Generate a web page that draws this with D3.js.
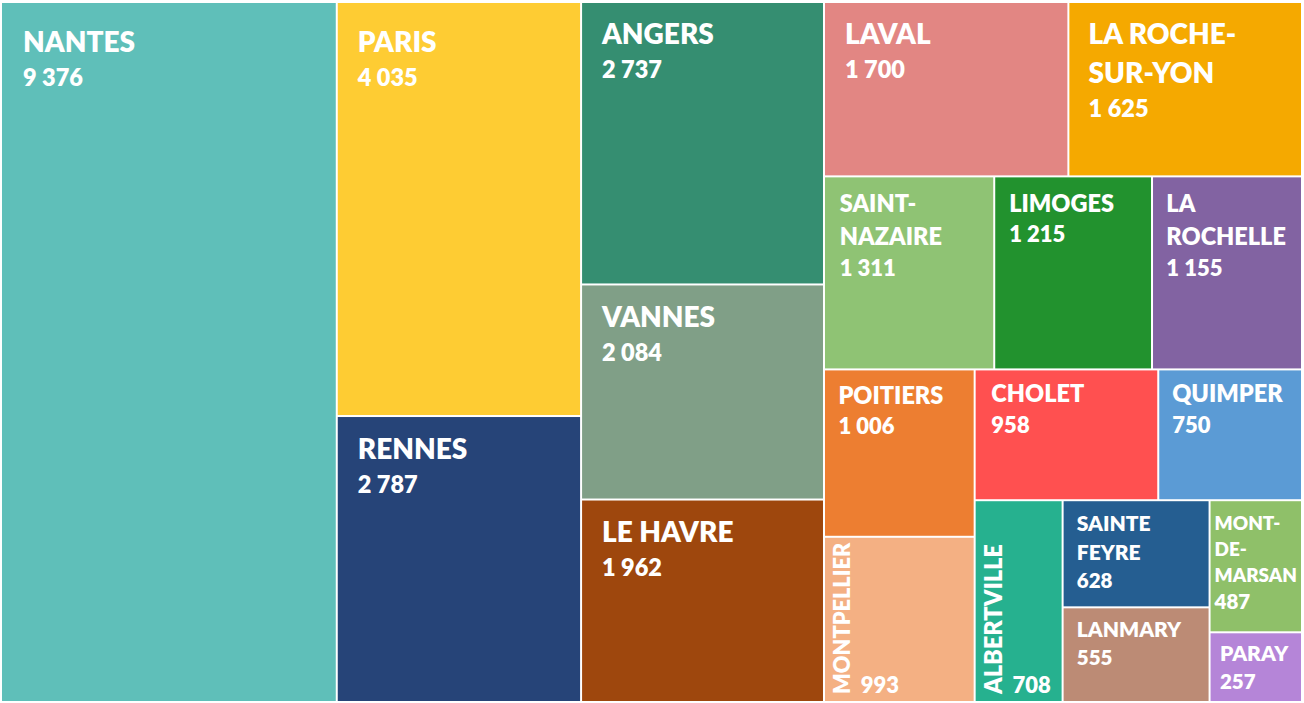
<!DOCTYPE html>
<html><head><meta charset="utf-8">
<script src="https://cdn.jsdelivr.net/npm/d3@7"></script>
<style>
body{margin:0;background:#fff;}
svg{display:block;}
text{font-family:Lato,'Open Sans',sans-serif;font-weight:800;fill:#fff;}
</style>
</head><body>
<svg id="chart" width="1304" height="703"></svg>
<script>
// ---- data ----
const cities = ["NANTES","PARIS","RENNES","ANGERS","VANNES","LE HAVRE","LAVAL","LA ROCHE-SUR-YON","SAINT-NAZAIRE","LIMOGES","LA ROCHELLE","POITIERS","MONTPELLIER","CHOLET","QUIMPER","ALBERTVILLE","SAINTE FEYRE","LANMARY","MONT-DE-MARSAN","PARAY"];
const counts = [9376,4035,2787,2737,2084,1962,1700,1625,1311,1215,1155,1006,993,958,750,708,628,555,487,257];
const colors = ["#5FBFB9","#FECC33","#264478","#358E71","#809F87","#9E470D","#E28683","#F5A900","#8FC374","#22922E","#8263A2","#ED7E31","#F4B083","#FF5050","#5B9BD5","#26B18F","#255E91","#BC8B75","#8FC069","#B585D8"];
// squarified rows as laid out by the spreadsheet (number of items per strip, strip direction)
const rowSizes = [1,2,3,2,3,2,2,1,2,2];
const rowDirs  = ["col","col","col","row","row","col","row","col","col","col"];

const W = 1304, H = 703;
const svg = d3.select("#chart");

function stripTile(parent, x0, y0, x1, y1) {
  const nodes = parent.children;
  let value = parent.value, i0 = 0;
  rowSizes.forEach((n, r) => {
    const kids = nodes.slice(i0, i0 + n);
    const row = {children: kids, value: d3.sum(kids, d => d.value)};
    if (rowDirs[r] === "row") {
      const ny = (r === rowSizes.length - 1) ? y1 : y0 + (y1 - y0) * row.value / value;
      d3.treemapDice(row, x0, y0, x1, ny); y0 = ny;
    } else {
      const nx = (r === rowSizes.length - 1) ? x1 : x0 + (x1 - x0) * row.value / value;
      d3.treemapSlice(row, x0, y0, nx, y1); x0 = nx;
    }
    value -= row.value; i0 += n;
  });
}

const data = {name: "root", children: cities.map((c, i) => ({name: c, value: counts[i], color: colors[i]}))};
const root = d3.hierarchy(data).sum(d => d.value || 0);
d3.treemap().tile(stripTile).size([W - 3, H - 3]).paddingInner(2).paddingOuter(1)(root);

const fmt = d3.formatLocale({decimal: ",", thousands: " ", grouping: [3], currency: ["", "€"]}).format(",d");

const g = svg.append("g").attr("transform", "translate(1,2)");
const leaves = root.leaves();

g.selectAll("rect").data(leaves).join("rect")
  .attr("x", d => d.x0).attr("y", d => d.y0)
  .attr("width", d => d.x1 - d.x0).attr("height", d => d.y1 - d.y0)
  .attr("fill", d => d.data.color);

const meas = svg.append("text").attr("x", -1000).attr("y", -1000);
function tw(str, size) { meas.attr("font-size", size).text(str); return meas.node().getComputedTextLength(); }

const CAP = 0.72;
function styleFor(area) {
  if (area > 36000) return {lf: 28, vf: 23.5, lh: 39, vh: 34};
  if (area > 16000) return {lf: 23.5, vf: 22, lh: 33.5, vh: 30.5};
  return {lf: 21, vf: 20.5, lh: 29, vh: 28};
}

leaves.forEach(d => {
  const w = d.x1 - d.x0, h = d.y1 - d.y0;
  const st = styleFor(w * h);
  const tokens = d.data.name.match(/[^\s-]+[-\s]?/g);
  const words = d.data.name.split(/(?<=[-\s])/).map(s => s.trim());
  let lf = st.lf;
  const maxWord = d3.max(words, s => tw(s, lf));
  let pad = Math.max(4, Math.min(21, 0.07 * w + 3));
  const cell = g.append("g");
  if (tokens.length === 1 && maxWord > 1.1 * (w - 8)) {
    // rotated label
    let f = lf;
    const len = tw(d.data.name, f);
    if (len > h - 12) f = f * (h - 12) / len;
    const cap = f * CAP;
    const bx = d.x0 + 9 + cap;
    cell.append("text").attr("font-size", f)
      .attr("transform", `translate(${bx},${d.y1 - 7}) rotate(-90)`)
      .text(d.data.name);
    cell.append("text").attr("font-size", st.vf)
      .attr("x", bx + 11).attr("y", d.y1 - 8)
      .text(fmt(d.data.value));
    return;
  }
  if (maxWord > w - 2 * pad) pad = Math.max(4, (w - maxWord) / 2);
  if (maxWord > w - 2 * pad) lf = lf * (w - 2 * pad) / maxWord;
  const avail = w - 2 * pad - 10;
  const lines = [];
  let line = "";
  tokens.forEach(t => {
    const cand = line + t;
    if (line === "" || tw(cand.trim(), lf) <= avail) line = cand;
    else { lines.push(line.trim()); line = t; }
  });
  lines.push(line.trim());
  let topPad = Math.max(8, Math.min(29, 0.04 * h + 10));
  if (st.lf === 28) topPad = h >= 400 ? 29 : Math.max(topPad, 21);
  let y = d.y0 + topPad + lf * CAP;
  const x = d.x0 + pad;
  const k = lf / st.lf;
  lines.forEach((l, i) => {
    cell.append("text").attr("font-size", lf).attr("x", x).attr("y", y).text(l);
    if (i < lines.length - 1) y += st.lh * k;
  });
  y += st.vh * (0.5 + 0.5 * k);
  cell.append("text").attr("font-size", st.vf).attr("x", x).attr("y", y).text(fmt(d.data.value));
});
meas.remove();
</script>
</body></html>
